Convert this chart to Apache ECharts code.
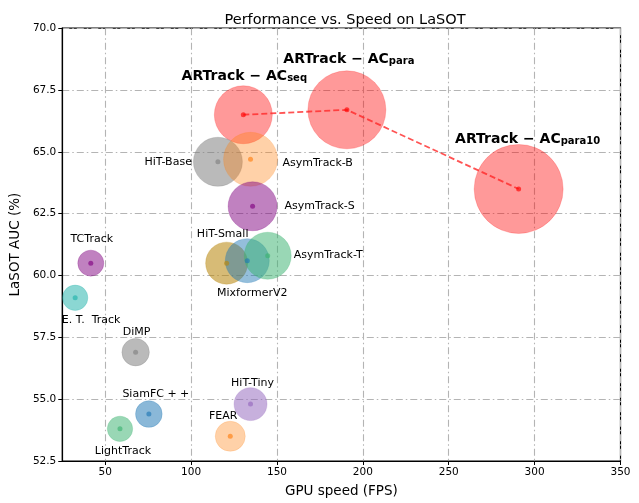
<!DOCTYPE html>
<html>
<head>
<meta charset="utf-8">
<script src="https://cdn.jsdelivr.net/npm/echarts@6/dist/echarts.min.js"></script>
<style>
  html, body { margin: 0; padding: 0; background: #fff; }
  #chart { width: 639px; height: 503px; }
</style>
</head>
<body>
<div id="chart"></div>
<script>
// Trackers: name, GPU speed (FPS), LaSOT AUC (%), relative model scale (bubble area)
const trackers = ['ARTrack-AC_seq', 'ARTrack-AC_para', 'ARTrack-AC_para10',
  'HiT-Base', 'AsymTrack-B', 'AsymTrack-S', 'HiT-Small', 'MixformerV2', 'AsymTrack-T',
  'TCTrack', 'E. T.  Track', 'DiMP', 'SiamFC + +', 'LightTrack', 'FEAR', 'HiT-Tiny'];
const fps = [130.4, 190.7, 290.7, 115.6, 134.6, 135.8, 120.7, 132.7, 144.6,
  41.6, 32.5, 67.7, 75.4, 58.6, 122.8, 134.6];
const auc = [66.5, 66.7, 63.5, 64.6, 64.7, 62.8, 60.5, 60.6, 60.8,
  60.5, 59.1, 56.9, 54.4, 53.8, 53.5, 54.8];
const modelScale = [841, 1521, 1980, 600, 729, 600, 441, 484, 552,
  169, 161, 188, 177, 161, 225, 272];

// Connected ARTrack variants
const artrackIdx = [0, 1, 2];

const xTicks = [50, 100, 150, 200, 250, 300, 350];

// Appearance per tracker
const palette = {
  'ARTrack-AC_seq': [255, 0, 0, 0.5],
  'ARTrack-AC_para': [255, 0, 0, 0.5],
  'ARTrack-AC_para10': [255, 0, 0, 0.5],
  'HiT-Base': [128, 128, 128, 0.68],
  'AsymTrack-B': [255, 127, 14, 0.45],
  'AsymTrack-S': [128, 0, 128, 0.62],
  'HiT-Small': [184, 134, 11, 0.7],
  'MixformerV2': [31, 119, 180, 0.6],
  'AsymTrack-T': [60, 179, 113, 0.65],
  'TCTrack': [128, 0, 128, 0.62],
  'E. T.  Track': [32, 178, 170, 0.65],
  'DiMP': [128, 128, 128, 0.68],
  'SiamFC + +': [31, 119, 180, 0.65],
  'LightTrack': [60, 179, 113, 0.65],
  'FEAR': [255, 127, 14, 0.45],
  'HiT-Tiny': [148, 103, 189, 0.65]
};
// label anchor offset from bubble centre (px) and alignment
const labelLayout = {
  'ARTrack-AC_seq': [1, -40, 'center'],
  'ARTrack-AC_para': [2, -52, 'center'],
  'ARTrack-AC_para10': [9, -52, 'center'],
  'HiT-Base': [-26, 0, 'right'],
  'AsymTrack-B': [32, 4, 'left'],
  'AsymTrack-S': [32, 0, 'left'],
  'HiT-Small': [-4, -29, 'center'],
  'MixformerV2': [5, 32, 'center'],
  'AsymTrack-T': [26, -1, 'left'],
  'TCTrack': [1, -24, 'center'],
  'E. T.  Track': [16, 22, 'center'],
  'DiMP': [1, -20, 'center'],
  'SiamFC + +': [7, -20, 'center'],
  'LightTrack': [3, 22, 'center'],
  'FEAR': [-7, -20, 'center'],
  'HiT-Tiny': [2, -21, 'center']
};
const subscripts = {
  'ARTrack-AC_seq': 'seq',
  'ARTrack-AC_para': 'para',
  'ARTrack-AC_para10': 'para10'
};

function rgba(c, a) { return 'rgba(' + c[0] + ',' + c[1] + ',' + c[2] + ',' + a + ')'; }

const series = [];

// dashed connector between the ARTrack variants
series.push({
  type: 'line',
  data: artrackIdx.map(i => [fps[i], auc[i]]),
  symbol: 'none',
  lineStyle: { color: 'rgba(255,40,40,0.8)', width: 1.8, type: [6, 3] },
  z: 3,
  silent: true
});

trackers.forEach((name, i) => {
  const c = palette[name];
  const lay = labelLayout[name];
  const sub = subscripts[name];
  series.push({
    type: 'scatter',
    name: name,
    data: [[fps[i], auc[i], modelScale[i]]],
    symbolSize: v => 2 * Math.sqrt(v[2]),
    itemStyle: { color: rgba(c, c[3]), borderColor: rgba(c, c[3] * 0.6), borderWidth: 0.8 },
    z: 2,
    label: {
      show: true,
      position: 'inside',
      align: lay[2],
      verticalAlign: 'middle',
      offset: [lay[0], lay[1]],
      color: '#000',
      opacity: 1,
      textBorderWidth: 0,
      textBorderColor: 'transparent',
      fontFamily: 'DejaVu Sans',
      fontSize: 11,
      formatter: sub ? ('{b|ARTrack − AC}{s|' + sub + '}') : name,
      rich: sub ? {
        b: { fontSize: 14, fontWeight: 'bold', color: '#000', fontFamily: 'DejaVu Sans', lineHeight: 18, verticalAlign: 'bottom', textBorderWidth: 0 },
        s: { fontSize: 10, fontWeight: 'bold', color: '#000', fontFamily: 'DejaVu Sans', lineHeight: 18, verticalAlign: 'bottom', padding: [6, 0, 0, 0], textBorderWidth: 0 }
      } : undefined
    }
  });
});

// centre markers
series.push({
  type: 'scatter',
  data: trackers.map((name, i) => ({
    value: [fps[i], auc[i]],
    itemStyle: { color: rgba(palette[name], 0.8) }
  })),
  symbolSize: 5,
  z: 4,
  silent: true
});

const chart = echarts.init(document.getElementById('chart'), null, { renderer: 'canvas' });
chart.setOption({
  animation: false,
  backgroundColor: '#fff',
  title: {
    text: 'Performance vs. Speed on LaSOT',
    left: 340, top: 8, textAlign: 'center',
    textStyle: { fontFamily: 'DejaVu Sans', fontSize: 14.5, fontWeight: 'normal', color: '#000' }
  },
  grid: { left: 60, right: 18.5, top: 28.2, bottom: 34.5, show: true, borderColor: '#000', borderWidth: 1.2, backgroundColor: 'transparent' },
  xAxis: {
    type: 'value', min: 25, max: 350,
    name: 'GPU speed (FPS)', nameLocation: 'middle', nameGap: 23,
    nameTextStyle: { fontFamily: 'DejaVu Sans', fontSize: 13.5, color: '#000' },
    axisLine: { show: true, lineStyle: { color: '#000', width: 1.2 } },
    axisTick: { show: true, length: 4, lineStyle: { color: '#000' }, customValues: xTicks },
    axisLabel: { customValues: xTicks, fontFamily: 'DejaVu Sans', fontSize: 10.5, color: '#000', margin: 6 },
    splitLine: { show: true, lineStyle: { color: '#b4b4b4', width: 1.1, type: [7, 3, 1.5, 3] } }
  },
  yAxis: {
    type: 'value', min: 52.5, max: 70, interval: 2.5,
    name: 'LaSOT AUC (%)', nameLocation: 'middle', nameGap: 38, nameRotate: 90,
    nameTextStyle: { fontFamily: 'DejaVu Sans', fontSize: 13.5, color: '#000' },
    axisLine: { show: true, lineStyle: { color: '#000', width: 1.2 } },
    axisTick: { show: true, length: 4, lineStyle: { color: '#000' } },
    axisLabel: { formatter: v => v.toFixed(1), fontFamily: 'DejaVu Sans', fontSize: 10.5, color: '#000', margin: 6 },
    splitLine: { show: true, lineStyle: { color: '#b4b4b4', width: 1.1, type: [7, 3, 1.5, 3] } }
  },
  series: series
});
</script>
</body>
</html>
